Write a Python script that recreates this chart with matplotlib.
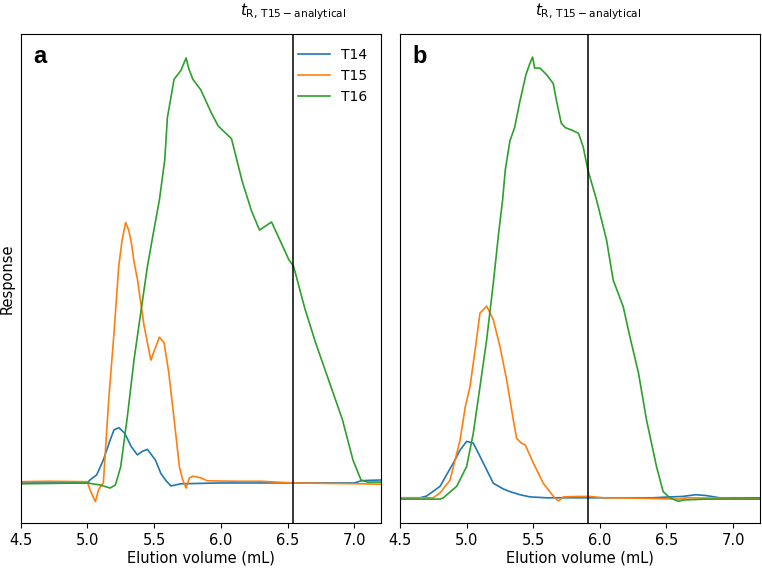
import matplotlib.pyplot as plt

plt.rcParams['font.family'] = 'DejaVu Sans'

# panel a: traces (response in arbitrary units, peak T16 = 1)
a_t14_x = [4.5, 4.8, 5.0, 5.02, 5.07, 5.12, 5.17, 5.2, 5.237, 5.28, 5.33, 5.375, 5.41,
           5.45, 5.51, 5.55, 5.59, 5.627, 5.70, 6.0, 6.5, 6.9, 7.0, 7.05, 7.1, 7.2]
a_t14_y = [0.0, 0.0, 0.0, 0.007, 0.019, 0.054, 0.10, 0.125, 0.13, 0.117, 0.085, 0.066,
           0.074, 0.079, 0.054, 0.023, 0.005, -0.007, -0.002, 0.0, 0.0, 0.0, 0.0, 0.005,
           0.006, 0.007]

a_t15_x = [4.5, 4.7, 5.0, 5.02, 5.06, 5.085, 5.12, 5.16, 5.20, 5.235, 5.26, 5.287,
           5.31, 5.33, 5.35, 5.375, 5.425, 5.476, 5.50, 5.54, 5.575, 5.61, 5.65, 5.69,
           5.715, 5.74, 5.765, 5.79, 5.85, 5.90, 6.13, 6.3, 6.54, 6.8, 7.05, 7.2]
a_t15_y = [0.003, 0.004, 0.003, -0.016, -0.044, -0.015, 0.0, 0.195, 0.353, 0.509,
           0.57, 0.613, 0.595, 0.565, 0.52, 0.48, 0.37, 0.289, 0.31, 0.343, 0.33, 0.26, 0.15,
           0.038, 0.007, -0.012, 0.012, 0.016, 0.012, 0.005, 0.004, 0.004, 0.0, -0.001,
           -0.002, -0.003]

a_t16_x = [4.5, 5.0, 5.1, 5.17, 5.21, 5.25, 5.30, 5.35, 5.40, 5.45, 5.49, 5.54, 5.58,
           5.60, 5.65, 5.70, 5.74, 5.76, 5.79, 5.85, 5.93, 5.98, 6.08, 6.16, 6.23, 6.29,
           6.38, 6.43, 6.51, 6.545, 6.63, 6.71, 6.81, 6.91, 6.99, 7.05, 7.1, 7.2]
a_t16_y = [-0.002, 0.0, -0.005, -0.012, -0.005, 0.038, 0.156, 0.29, 0.40, 0.509, 0.58,
           0.666, 0.76, 0.86, 0.95, 0.97, 1.0, 0.975, 0.95, 0.925, 0.87, 0.84, 0.81, 0.71,
           0.64, 0.595, 0.614, 0.58, 0.525, 0.51, 0.41, 0.33, 0.24, 0.15, 0.054, 0.007,
           0.002, 0.002]

# panel b
b_t14_x = [4.5, 4.65, 4.70, 4.80, 4.90, 4.95, 5.0, 5.05, 5.125, 5.20, 5.275, 5.325,
           5.40, 5.475, 5.6, 6.4, 6.525, 6.62, 6.72, 6.8, 6.9, 7.2]
b_t14_y = [0.0, 0.0, 0.004, 0.026, 0.079, 0.108, 0.128, 0.124, 0.079, 0.033, 0.02, 0.014,
           0.007, 0.002, 0.0, 0.0, 0.002, 0.003, 0.007, 0.005, 0.0, 0.0]

b_t15_x = [4.5, 4.75, 4.80, 4.875, 4.95, 4.99, 5.025, 5.06, 5.10, 5.15, 5.20, 5.25,
           5.30, 5.35, 5.375, 5.41, 5.44, 5.50, 5.575, 5.66, 5.69, 5.725, 5.825, 5.925,
           6.025, 6.3, 6.59, 6.65, 7.2]
b_t15_y = [0.0, 0.0, 0.011, 0.04, 0.13, 0.207, 0.252, 0.328, 0.419, 0.435, 0.404, 0.343,
           0.268, 0.177, 0.135, 0.124, 0.12, 0.079, 0.033, 0.0, -0.007, 0.002, 0.003, 0.003,
           0.0, -0.001, -0.003, 0.0, -0.002]

b_t16_x = [4.5, 4.8, 4.825, 4.925, 5.0, 5.05, 5.10, 5.15, 5.20, 5.24, 5.27, 5.29, 5.325,
           5.36, 5.40, 5.445, 5.475, 5.495, 5.51, 5.55, 5.60, 5.65, 5.675, 5.71, 5.74,
           5.79, 5.84, 5.875, 5.91, 5.975, 6.05, 6.10, 6.175, 6.225, 6.29, 6.35, 6.425,
           6.475, 6.525, 6.59, 6.625, 6.8, 7.2]
b_t16_y = [-0.003, -0.003, 0.0, 0.026, 0.071, 0.147, 0.252, 0.358, 0.487, 0.60, 0.676,
           0.744, 0.81, 0.84, 0.90, 0.96, 0.986, 1.0, 0.975, 0.975, 0.96, 0.94, 0.90, 0.85,
           0.84, 0.834, 0.827, 0.796, 0.744, 0.676, 0.585, 0.494, 0.434, 0.366, 0.283,
           0.177, 0.071, 0.014, 0.0, -0.008, -0.005, -0.003, -0.003]

t_analytical = [6.54, 5.91]
panel_labels = ['a', 'b']
series_names = ['T14', 'T15', 'T16']
ylims = [(-0.094, 1.056), (-0.057, 1.052)]

panels = [
    [(a_t14_x, a_t14_y), (a_t15_x, a_t15_y), (a_t16_x, a_t16_y)],
    [(b_t14_x, b_t14_y), (b_t15_x, b_t15_y), (b_t16_x, b_t16_y)],
]

fig = plt.figure(figsize=(7.62, 5.69), dpi=100)
ax_a = fig.add_axes([0.027, 0.081, 0.473, 0.859])
ax_b = fig.add_axes([0.525, 0.081, 0.472, 0.859])

for i, ax in enumerate([ax_a, ax_b]):
    for j, (x, y) in enumerate(panels[i]):
        ax.plot(x, y, color='C' + str(j), lw=1.2, label=series_names[j])
    ax.axvline(t_analytical[i], color='black', lw=1.1)
    ax.set_xlim(4.5, 7.2)
    ax.set_ylim(*ylims[i])
    ax.set_yticks([])
    ax.set_xticks([4.5, 5.0, 5.5, 6.0, 6.5, 7.0])
    ax.tick_params(axis='x', labelsize=10.5)
    ax.set_xlabel('Elution volume (mL)', fontsize=10.5, labelpad=2)
    ax.text(0.035, 0.955, panel_labels[i], transform=ax.transAxes, fontsize=17,
            fontweight='bold', family='Liberation Sans', va='center', ha='left')
    ax.text(t_analytical[i], 1.045, r'$t_{\mathrm{R,\,T15-analytical}}$',
            transform=ax.get_xaxis_transform(), ha='center', va='center', fontsize=11)

ax_a.set_ylabel('Response', fontsize=10.5, labelpad=4)
ax_a.legend(loc='upper right', frameon=False, fontsize=10, handlelength=2.3,
            borderaxespad=0.6)

fig.savefig('out.png', dpi=100)
